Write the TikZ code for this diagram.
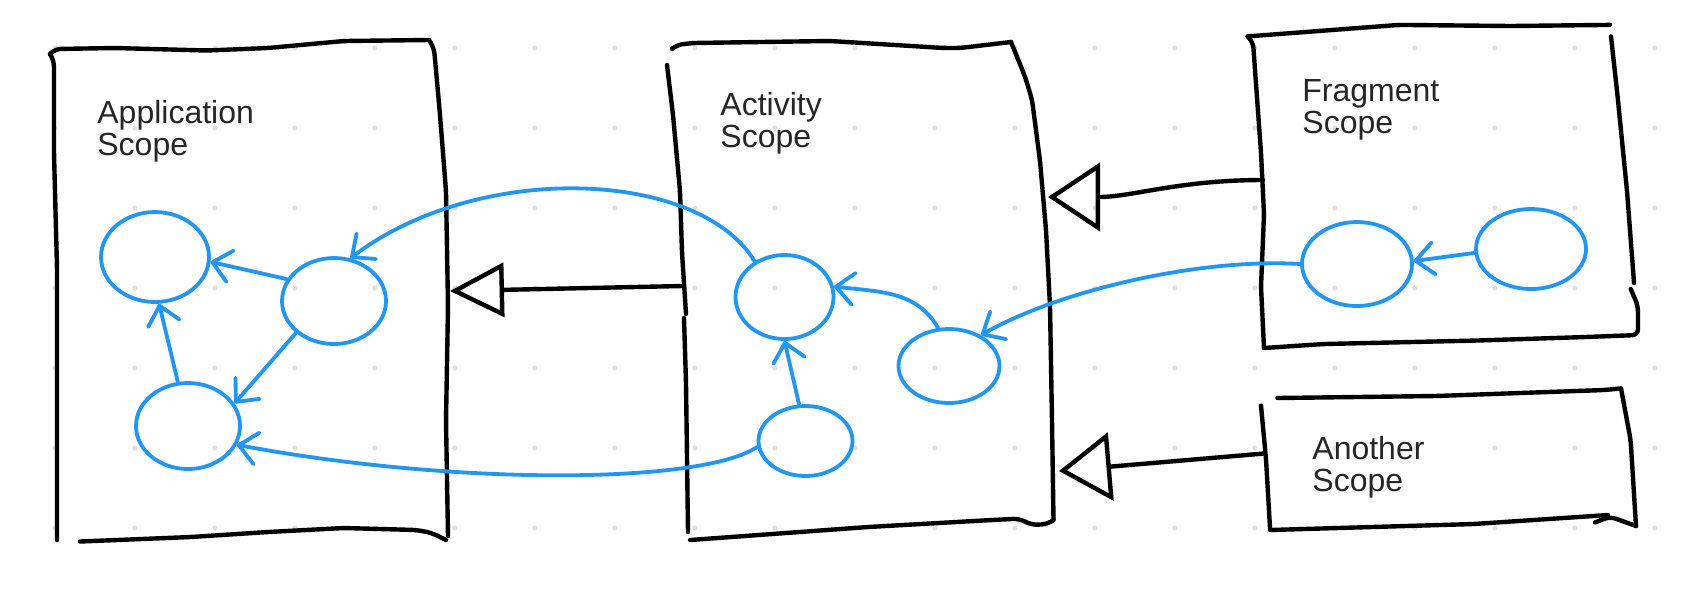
\documentclass[tikz,border=0pt]{standalone}
\usepackage{fontspec}
\setmainfont{Liberation Sans}
\usetikzlibrary{arrows.meta,shapes.geometric}
\definecolor{skblue}{RGB}{33,150,243}
\definecolor{dotgray}{RGB}{224,224,224}
\begin{document}
\begin{tikzpicture}[x=0.5pt,y=-0.5pt,
  sketch/.style={line width=2.2pt,black,line cap=round,line join=round,rounded corners=3pt},
  inh/.style={line width=2.2pt,black,line cap=round,line join=round,-{Triangle[open,length=26pt,width=34pt]}},
  inhs/.style={line width=2.2pt,black,line cap=round,line join=round,-{Triangle[open,length=27pt,width=27pt]}},
  bub/.style={ellipse,draw=skblue,line width=1.9pt,inner sep=0pt},
  barc/.style={skblue,line width=1.9pt,line cap=round,-{Straight Barb[length=9pt,width=16pt,round]}},
  lbl/.style={font=\fontsize{16}{16}\selectfont,inner sep=0pt,anchor=base west,text=black!85}]
\useasboundingbox (0,0) rectangle (1686,602);
\fill[white] (0,0) rectangle (1686,602);
% dot grid
\foreach \i in {0,...,20}{\foreach \j in {0,...,6}{\fill[dotgray] (55+80*\i,48+80*\j) circle (1.3pt);}}

% ---------- Application scope box ----------
\draw[sketch] (50,54) -- (54,61) -- (54,153) -- (57,268) -- (57,421) -- (57,540);
\draw[sketch] (50,54) -- (55,49) -- (115,48) -- (207,50.5) -- (268,48) -- (344,41) -- (429,40);
\draw[sketch] (429,40) -- (434,48) -- (440,115) -- (446,191) -- (448,306) -- (446,421) -- (448,536);
\draw[sketch] (446,540) -- (432,533) -- (417,530) -- (344,528) -- (268,532) -- (191,537) -- (80,541.5);
\node[lbl] (appT1) at (97,123) {Application};
\node[lbl] (appT2) at (97,155) {Scope};

% ---------- Activity scope box ----------
\draw[sketch] (673,48) -- (676.5,45) -- (692,43) -- (830,41) -- (944,48) -- (960,48) -- (1011,42);
\draw[sketch] (1011,42) -- (1025,76.5) -- (1032,99.5) -- (1040,161) -- (1046,230) -- (1050,306) -- (1052,421) -- (1053.5,520);
\draw[sketch] (1053.5,520) -- (1048,524) -- (1032,525) -- (1019,518.6) -- (983,520.5) -- (868,527) -- (690,540);
\draw[sketch] (667,65) -- (673,115) -- (680,191) -- (682,252.6) -- (686,314);
\draw[sketch] (684,318) -- (686,383) -- (688,532);
\node[lbl] (actT1) at (720,115) {Activity};
\node[lbl] (actT2) at (720,147) {Scope};

% ---------- Fragment scope box ----------
\draw[sketch] (1247.6,36.4) -- (1324,30.6) -- (1399,24.9) -- (1511,26) -- (1610,24.9);
\draw[sketch] (1611,36.4) -- (1617.5,95.7) -- (1627,191) -- (1634,283);
\draw[sketch] (1630.7,289) -- (1638,306) -- (1638,335) -- (1586,337) -- (1474,340.6) -- (1324,344) -- (1264,348);
\draw[sketch] (1247.6,36.4) -- (1253,42) -- (1261,153) -- (1264,214) -- (1261,287) -- (1264,348);
\node[lbl] (frgT1) at (1302,101) {Fragment};
\node[lbl] (frgT2) at (1302,133) {Scope};

% ---------- Another scope box ----------
\draw[sketch] (1277.5,398) -- (1436,396) -- (1604.5,390) -- (1621,388.4);
\draw[sketch] (1261,405.7) -- (1266,459) -- (1270,528);
\draw[sketch] (1621,388.4) -- (1630.6,440) -- (1636,526);
\draw[sketch] (1270,530) -- (1474,524) -- (1608,515);
\draw[sketch] (1595,522.4) -- (1610,516.6) -- (1636,526);
\node[lbl] (anoT1) at (1312,459) {Another};
\node[lbl] (anoT2) at (1312,491) {Scope};

% ---------- connector end points on the boxes ----------
\coordinate (appR) at (450,291);
\coordinate (actL) at (682,286);
\coordinate (actR1) at (1048,197);
\coordinate (actR2) at (1059,471);
\coordinate (frgL) at (1263,180);
\coordinate (anoL) at (1264,453.5);

% inheritance arrows
\draw[inhs] (actL) -- (appR);
\draw[inh] (frgL) to[out=180,in=0] (actR1);
\draw[inh] (anoL) -- (actR2);

% ---------- blue bubbles ----------
\node[bub,minimum width=54pt,minimum height=45pt] (A1) at (155,257) {};
\node[bub,minimum width=52pt,minimum height=43pt] (A2) at (334,301) {};
\node[bub,minimum width=52pt,minimum height=43pt] (A3) at (188,426) {};
\node[bub,minimum width=49pt,minimum height=42pt] (B1) at (784.5,297) {};
\node[bub,minimum width=50.5pt,minimum height=37pt] (B2) at (949,366) {};
\node[bub,minimum width=47pt,minimum height=35pt] (B3) at (805.5,441) {};
\node[bub,minimum width=55pt,minimum height=42pt] (F1) at (1357,264) {};
\node[bub,minimum width=55pt,minimum height=40pt] (F2) at (1531,249) {};

% ---------- blue dependency arrows ----------
\draw[barc] (A2.155) -- (A1.-5);
\draw[barc] (A3.103) -- (A1.-85);
\draw[barc] (A2.220) -- (A3.26);
\draw[barc] (B3.100) -- (B1.-90);
\draw[barc] (B2.106) to[out=120,in=-7] (B1.12);
\draw[barc] (B1.130) .. controls (700,170) and (480,160) .. (A2.69);
\draw[barc] (B3.187) .. controls (700,485) and (450,485) .. (A3.-21);
\draw[barc] (F1.180) .. controls (1200,258) and (1060,290) .. (B2.44);
\draw[barc] (F2.184) -- (F1.3);
\end{tikzpicture}
\end{document}
